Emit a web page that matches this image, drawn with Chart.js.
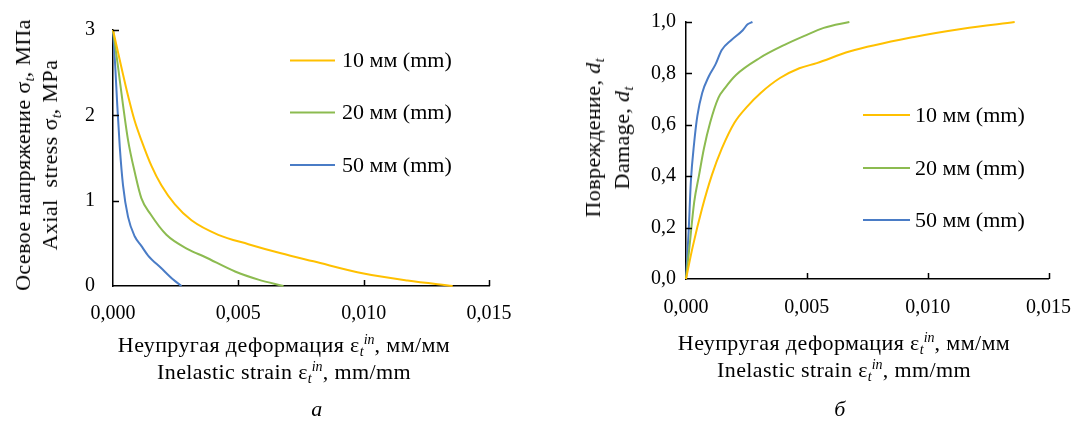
<!DOCTYPE html>
<html>
<head>
<meta charset="utf-8">
<script src="https://cdn.jsdelivr.net/npm/chart.js@4/dist/chart.umd.min.js"></script>
<style>
  html, body { margin: 0; padding: 0; background: #fff; }
  body { width: 1088px; height: 425px; position: relative; overflow: hidden;
         font-family: "Liberation Serif", "Times New Roman", serif; color: #000; }
  .pane { position: absolute; top: 0; width: 544px; height: 425px; }
  .t { position: absolute; white-space: nowrap; font-size: 22px; text-align: center;
       transform: translate(-50%, -50%); line-height: 27px; letter-spacing: 0.4px; }
  .rot { transform: translate(-50%, -50%) rotate(-90deg); }
  sub, sup { font-size: 14px; line-height: 0; font-style: italic; letter-spacing: 0; }
  sub { vertical-align: -4px; }
  sup { vertical-align: 8px; }
  i { font-style: italic; }
</style>
</head>
<body>
<div class="pane" style="left:0"><canvas id="cA" width="544" height="425"></canvas></div>
<div class="pane" style="left:544px"><canvas id="cB" width="544" height="425"></canvas></div>

<div class="t rot" style="left:36px; top:155px; line-height:27px;">Осевое напряжение σ<sub>t</sub>, МПа<br>Axial&nbsp; stress σ<sub>t</sub>, MPa</div>
<div class="t" style="left:284px; top:358px;">Неупругая деформация ε<sub>t</sub><sup>in</sup>, мм/мм<br>Inelastic strain ε<sub>t</sub><sup>in</sup>, mm/mm</div>
<div class="t" style="left:317px; top:408px; font-style:italic;">а</div>

<div class="t rot" style="left:607px; top:138px; line-height:29px;">Повреждение, <i>d</i><sub>t</sub><br>Damage, <i>d</i><sub>t</sub></div>
<div class="t" style="left:844px; top:356px;">Неупругая деформация ε<sub>t</sub><sup>in</sup>, мм/мм<br>Inelastic strain ε<sub>t</sub><sup>in</sup>, mm/mm</div>
<div class="t" style="left:840px; top:408px; font-style:italic;">б</div>

<script>
// ---------- data ----------
const seriesLabels = ['10 мм (mm)', '20 мм (mm)', '50 мм (mm)'];

// Panel a: axial stress vs inelastic strain
const stress10x = [0, 0.00033, 0.0006, 0.00087, 0.00113, 0.00153, 0.00193, 0.00247, 0.00313, 0.0042, 0.0054, 0.0067, 0.0080, 0.0100, 0.01175, 0.01355];
const stress10y = [3.0, 2.57, 2.23, 1.93, 1.71, 1.41, 1.18, 0.956, 0.77, 0.60, 0.49, 0.383, 0.289, 0.146, 0.064, 0.0];
const stress20x = [0, 0.0002, 0.0004, 0.0006, 0.00087, 0.00113, 0.0015, 0.00213, 0.003, 0.00367, 0.00487, 0.0058, 0.0068];
const stress20y = [3.0, 2.57, 2.12, 1.71, 1.33, 1.03, 0.84, 0.60, 0.43, 0.34, 0.17, 0.075, 0.0];
const stress50x = [0, 0.00009, 0.00017, 0.00027, 0.0004, 0.0006, 0.00087, 0.00113, 0.0014, 0.00193, 0.0024, 0.00273];
const stress50y = [3.0, 2.57, 2.12, 1.63, 1.18, 0.81, 0.58, 0.47, 0.357, 0.207, 0.075, 0.0];

// Panel б: damage vs inelastic strain
const damage10x = [0, 0.00027, 0.00067, 0.00107, 0.00148, 0.00201, 0.00255, 0.00309, 0.00389, 0.00469, 0.00541, 0.00676, 0.00944, 0.01145, 0.0136];
const damage10y = [0, 0.122, 0.276, 0.404, 0.507, 0.609, 0.673, 0.724, 0.782, 0.82, 0.84, 0.885, 0.942, 0.974, 1.0];
const damage20x = [0, 0.00014, 0.00034, 0.00054, 0.00074, 0.001, 0.00134, 0.00161, 0.00208, 0.00305, 0.0041, 0.0049, 0.0057, 0.00676];
const damage20y = [0, 0.122, 0.30, 0.404, 0.507, 0.609, 0.705, 0.743, 0.795, 0.86, 0.912, 0.946, 0.977, 1.0];
const damage50x = [0, 0.00011, 0.0002, 0.00034, 0.00047, 0.00067, 0.00094, 0.00121, 0.00148, 0.00188, 0.00235, 0.00255, 0.00275];
const damage50y = [0, 0.186, 0.378, 0.532, 0.635, 0.724, 0.788, 0.833, 0.891, 0.93, 0.968, 0.991, 1.0];

// Tick values / labels
const xTickValues = [0, 0.005, 0.010, 0.015];
const xTickLabels = ['0,000', '0,005', '0,010', '0,015'];
const yTickValuesA = [0, 1, 2, 3];
const yTickLabelsA = ['0', '1', '2', '3'];
const yTickValuesB = [0, 0.2, 0.4, 0.6, 0.8, 1.0];
const yTickLabelsB = ['0,0', '0,2', '0,4', '0,6', '0,8', '1,0'];

// ---------- styling ----------
const colors = ['#FFC000', '#8CBB50', '#4A7CC6'];
const FONT = '"Liberation Serif", "Times New Roman", serif';

function pts(xs, ys) { return xs.map((x, i) => ({ x: x, y: ys[i] })); }

function makeDatasets(pairs) {
  return pairs.map((p, i) => ({
    label: seriesLabels[i],
    data: pts(p[0], p[1]),
    borderColor: colors[i],
    backgroundColor: colors[i],
    borderWidth: 2,
    pointRadius: 0,
    cubicInterpolationMode: 'monotone',
    fill: false,
    clip: false
  }));
}

// inward tick marks drawn from the scales
const innerTicks = {
  id: 'innerTicks',
  afterDraw(chart) {
    const ctx = chart.ctx, a = chart.chartArea;
    const xs = chart.scales.x, ys = chart.scales.y;
    ctx.save();
    ctx.strokeStyle = '#000';
    ctx.lineWidth = 1.5;
    ctx.beginPath();
    xs.ticks.forEach(t => {
      if (t.value === 0) return;
      const px = Math.round(xs.getPixelForValue(t.value)) + 0.5;
      ctx.moveTo(px, a.bottom); ctx.lineTo(px, a.bottom - 6);
    });
    ys.ticks.forEach(t => {
      if (t.value === 0) return;
      const py = Math.round(ys.getPixelForValue(t.value)) + 0.5;
      ctx.moveTo(a.left, py); ctx.lineTo(a.left + 6, py);
    });
    ctx.stroke();
    ctx.restore();
  }
};

// legend drawn inside the plot
function legendPlugin(lineX1, lineX2, textX, rowsY) {
  return {
    id: 'innerLegend',
    afterDraw(chart) {
      const ctx = chart.ctx;
      ctx.save();
      ctx.font = '22px ' + FONT;
      ctx.textBaseline = 'middle';
      ctx.textAlign = 'left';
      chart.data.datasets.forEach((ds, i) => {
        const y = rowsY[i];
        ctx.strokeStyle = ds.borderColor;
        ctx.lineWidth = 2;
        ctx.beginPath();
        ctx.moveTo(lineX1, y); ctx.lineTo(lineX2, y);
        ctx.stroke();
        ctx.fillStyle = '#000';
        ctx.fillText(ds.label, textX, y + 1);
      });
      ctx.restore();
    }
  };
}

function makeChart(id, datasets, yMax, yVals, yLabels, opts) {
  return new Chart(document.getElementById(id), {
    type: 'line',
    data: { datasets: datasets },
    options: {
      responsive: false,
      animation: false,
      events: [],
      layout: { padding: { top: 19, right: opts.padRight, left: 0, bottom: 0 } },
      plugins: { legend: { display: false }, tooltip: { enabled: false } },
      scales: {
        x: {
          type: 'linear',
          min: 0, max: 0.015,
          afterBuildTicks: s => { s.ticks = xTickValues.map(v => ({ value: v })); },
          afterFit: s => { s.height = opts.xHeight; },
          ticks: {
            callback: (v, i) => xTickLabels[i],
            font: { family: FONT, size: 20 },
            color: '#000',
            padding: opts.xPad,
            maxRotation: 0,
            autoSkip: false
          },
          grid: { display: true, drawOnChartArea: false, drawTicks: false },
          border: { display: true, color: '#000', width: 1.5 }
        },
        y: {
          type: 'linear',
          min: 0, max: yMax,
          afterBuildTicks: s => { s.ticks = yVals.map(v => ({ value: v })); },
          afterFit: s => { s.width = opts.yWidth; },
          ticks: {
            callback: (v, i) => yLabels[i],
            font: { family: FONT, size: 20 },
            color: '#000',
            padding: opts.yPad,
            autoSkip: false
          },
          grid: { display: true, drawOnChartArea: false, drawTicks: false },
          border: { display: true, color: '#000', width: 1.5 }
        }
      }
    },
    plugins: [innerTicks, legendPlugin(opts.lg[0], opts.lg[1], opts.lg[2], opts.lg[3])]
  });
}

makeChart('cA',
  makeDatasets([[stress10x, stress10y], [stress20x, stress20y], [stress50x, stress50y]]),
  3, yTickValuesA, yTickLabelsA,
  { padRight: 55, xHeight: 139, yWidth: 113, xPad: 16, yPad: 18,
    lg: [290, 335, 342, [60.5, 112.5, 165]] });

makeChart('cB',
  makeDatasets([[damage10x, damage10y], [damage20x, damage20y], [damage50x, damage50y]]),
  1, yTickValuesB, yTickLabelsB,
  { padRight: 30, xHeight: 146, yWidth: 142, xPad: 17, yPad: 10,
    lg: [319, 366, 371, [115, 168, 220]] });
</script>
</body>
</html>
